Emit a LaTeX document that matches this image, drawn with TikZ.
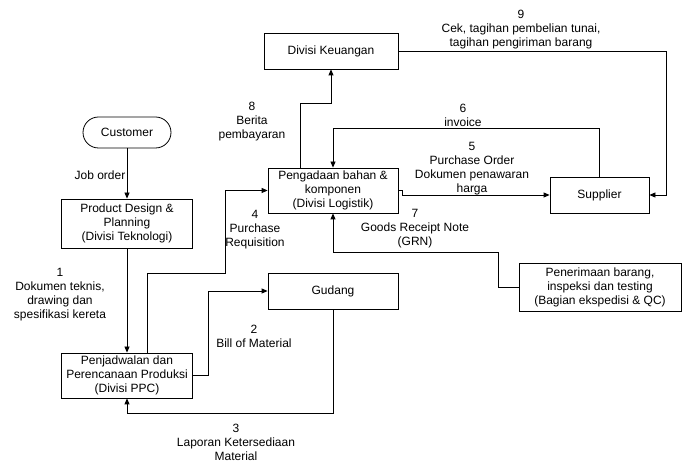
\documentclass[tikz,border=0pt]{standalone}
\usepackage{fontspec}
\setmainfont{Liberation Sans}
\usepackage{tikz}
\usetikzlibrary{arrows.meta, positioning, shapes}

\tikzset{
  box/.style={draw, line width=0.8pt, align=center, inner sep=1pt},
  lbl/.style={align=center},
  arr/.style={line width=0.8pt, -{Triangle[length=6pt,width=5pt]}},
  ln/.style={line width=0.8pt}
}

\begin{document}
\begin{tikzpicture}[x=1pt, y=-1pt, font=\fontsize{12}{14}\selectfont]
\useasboundingbox (0,0) rectangle (686,462);

% Boxes
\node[box, rounded corners=15.5pt, minimum width=88pt, minimum height=31pt] (cust) at (127,132.5) {Customer};
\node[box, minimum width=131pt, minimum height=49pt] (prod) at (127,223.5) {Product Design \&\\Planning\\(Divisi Teknologi)};
\node[box, minimum width=131pt, minimum height=45pt] (ppc) at (127,375.5) {Penjadwalan dan\\Perencanaan Produksi\\(Divisi PPC)};
\node[box, minimum width=130pt, minimum height=36pt] (gud) at (333,291) {Gudang};
\node[box, minimum width=130pt, minimum height=45pt] (log) at (333,190.5) {Pengadaan bahan \&\\komponen\\(Divisi Logistik)};
\node[box, minimum width=134pt, minimum height=36pt] (keu) at (331,51) {Divisi Keuangan};
\node[box, minimum width=99pt, minimum height=36pt] (sup) at (599.5,195) {Supplier};
\node[box, minimum width=162pt, minimum height=48pt] (qc) at (600,287) {Penerimaan barang,\\inspeksi dan testing\\(Bagian ekspedisi \& QC)};

% Connectors
\draw[arr] (cust.south) -- (prod.north);
\draw[arr] (prod.south) -- (ppc.north);
\coordinate (pr) at (225,273);
\draw[arr] ([xshift=20.5pt]ppc.north) |- (pr) |- (log.west);
\draw[arr] (ppc.east) -- ++(15,0) |- (gud.west);
\coordinate (lap) at (333,413);
\draw[arr] (gud.south) -- (lap) -| (ppc.south);
\coordinate (ber) at (331,103);
\draw[arr] ([xshift=-33pt]log.north) |- (ber) -- (keu.south);
\draw[arr] (sup.north) -- ++(0,-48) -| (log.north);
\draw[arr] (log.east) -- ++(4,0) |- (sup.west);
\draw[arr] (keu.east) -- ++(268,0) |- (sup.east);
\draw[arr] (qc.west) -- ++(-20,0) -- ++(0,-35) -| (log.south);

% Labels
\node[lbl] (l0) at (100,175) {Job order};
\node[lbl] (l1) at (60,294.5) {1\\Dokumen teknis,\\drawing dan\\spesifikasi kereta};
\node[lbl] (l2) at (254,336) {2\\Bill of Material};
\node[lbl] (l3) at (236,442.5) {3\\Laporan Ketersediaan\\Material};
\node[lbl] (l4) at (255,230) {4\\Purchase\\Requisition};
\node[lbl] (l5) at (472,169) {5\\Purchase Order\\Dokumen penawaran\\harga};
\node[lbl] (l6) at (463,115) {6\\invoice};
\node[lbl] (l7) at (415,229) {7\\Goods Receipt Note\\(GRN)};
\node[lbl] (l8) at (252,122) {8\\Berita\\pembayaran};
\node[lbl] (l9) at (521,30) {9\\Cek, tagihan pembelian tunai,\\tagihan pengiriman barang};
\end{tikzpicture}
\end{document}
